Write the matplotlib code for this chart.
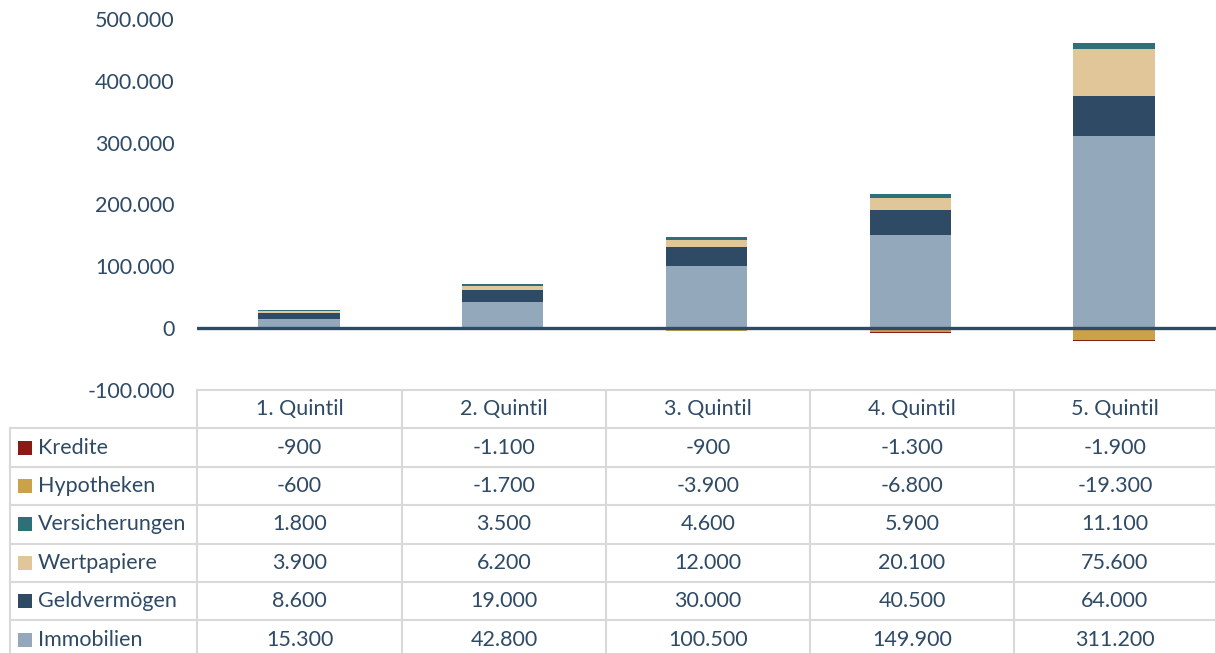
import matplotlib
matplotlib.use("Agg")
import matplotlib.pyplot as plt
import numpy as np
from matplotlib.lines import Line2D
from matplotlib.patches import Rectangle

# ---------------------------------------------------------------- daten
quintile = ["1. Quintil", "2. Quintil", "3. Quintil", "4. Quintil", "5. Quintil"]
kredite = [-900, -1100, -900, -1300, -1900]
hypotheken = [-600, -1700, -3900, -6800, -19300]
versicherungen = [1800, 3500, 4600, 5900, 11100]
wertpapiere = [3900, 6200, 12000, 20100, 75600]
geldvermoegen = [8600, 19000, 30000, 40500, 64000]
immobilien = [15300, 42800, 100500, 149900, 311200]

# tabellenreihen von oben nach unten
reihen = [
    ("Kredite", kredite, "#8B1A14"),
    ("Hypotheken", hypotheken, "#C9A24A"),
    ("Versicherungen", versicherungen, "#2F7078"),
    ("Wertpapiere", wertpapiere, "#E1C699"),
    ("Geldvermögen", geldvermoegen, "#2E4A65"),
    ("Immobilien", immobilien, "#93A8BB"),
]

TXT = "#2E4A65"
GRID = "#D9D9D9"
FS = 15.5
W, H = 1216, 653
plt.rcParams["font.family"] = ["Lato", "DejaVu Sans"]


def de(v):
    return f"{v:,}".replace(",", ".")


def fx(px):
    return px / W


def fy(py):
    return 1 - py / H


fig = plt.figure(figsize=(W / 100, H / 100), dpi=100)
ax = fig.add_axes([fx(197), fy(390), fx(1216) - fx(197), fy(19) - fy(390)])

x = np.arange(len(quintile)) + 0.5
bw = 0.4
# positive stapel
unten = np.zeros(len(x))
for name, vals, col in [reihen[5], reihen[4], reihen[3], reihen[2]]:
    v = np.array(vals, dtype=float)
    ax.bar(x, v, bw, bottom=unten, color=col, edgecolor="none")
    unten += v
# negative stapel
unten = np.zeros(len(x))
for name, vals, col in [reihen[1], reihen[0]]:
    v = np.array(vals, dtype=float)
    ax.bar(x, v, bw, bottom=unten, color=col, edgecolor="none")
    unten += v

ax.axhline(0, color="#2E4A65", lw=2.4, zorder=5)
ax.set_xlim(0, len(quintile))
ax.set_ylim(-100000, 500000)
ticks = np.arange(-100000, 500001, 100000)
ax.set_yticks(ticks)
ax.set_yticklabels([de(t) for t in ticks], fontsize=FS, color=TXT)
ax.tick_params(axis="y", length=0, pad=16)
ax.set_xticks([])
for s in ax.spines.values():
    s.set_visible(False)

# ---------------------------------------------------------------- tabelle
col_x = [197, 402, 606, 810, 1014, 1216]
row_y = [390 + 38.4 * k for k in range(8)]
left = 10

def hline(y, x0, x1):
    fig.add_artist(Line2D([fx(x0), fx(x1)], [fy(y), fy(y)], color=GRID, lw=1.5))


def vline(xp, y0, y1):
    fig.add_artist(Line2D([fx(xp), fx(xp)], [fy(y0), fy(y1)], color=GRID, lw=1.5))


hline(row_y[0], col_x[0], col_x[-1])
for y in row_y[1:7]:
    hline(y, left, col_x[-1])
vline(left, row_y[1], H + 5)
for xp in col_x:
    vline(xp, row_y[0], H + 5)

for j, q in enumerate(quintile):
    cx = (col_x[j] + col_x[j + 1]) / 2
    fig.text(fx(cx), fy((row_y[0] + row_y[1]) / 2), q, ha="center", va="center",
             fontsize=FS, color=TXT)

for i, (name, vals, col) in enumerate(reihen):
    cy = (row_y[i + 1] + row_y[i + 2]) / 2
    fig.add_artist(Rectangle((fx(18), fy(cy + 7)), fx(14), fy(0) - fy(14),
                             transform=fig.transFigure, color=col, lw=0))
    fig.text(fx(38), fy(cy), name, ha="left", va="center", fontsize=FS, color=TXT)
    for j, v in enumerate(vals):
        cx = (col_x[j] + col_x[j + 1]) / 2
        fig.text(fx(cx), fy(cy), de(v), ha="center", va="center", fontsize=FS, color=TXT)

fig.savefig("out.png", dpi=100)
